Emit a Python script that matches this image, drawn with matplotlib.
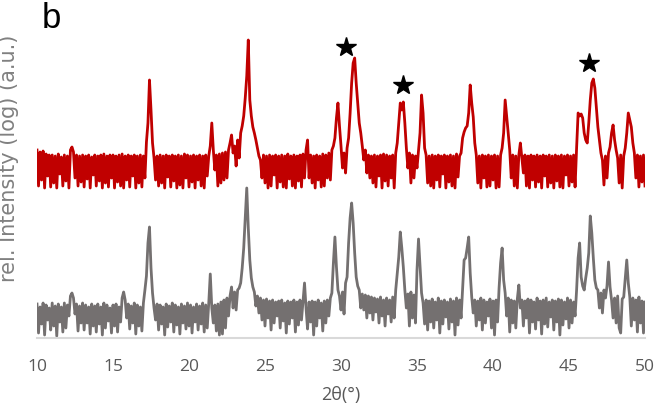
import numpy as np
import matplotlib.pyplot as plt

# Difractogramas (escala log, desplazados), paso 0.1 grados
two_theta = np.round(np.arange(10.0, 50.05, 0.1), 1)

red_trace = [
    188, 152, 186, 158, 187, 150, 184, 162, 183, 151,  # 10
    183, 155, 182, 150, 184, 164, 181, 152, 183, 157,  # 11
    182, 150, 188, 191, 186, 160, 183, 152, 182, 156,  # 12
    183, 151, 182, 159, 183, 150, 181, 163, 183, 152,  # 13
    182, 157, 183, 150, 184, 155, 182, 151, 183, 160,  # 14
    183, 150, 182, 156, 183, 152, 184, 150, 182, 158,  # 15
    183, 151, 182, 162, 183, 150, 182, 155, 183, 151,  # 16
    182, 160, 196, 215, 258, 228, 195, 180, 158, 182,  # 17
    152, 183, 155, 182, 150, 183, 161, 182, 151, 183,  # 18
    157, 182, 150, 183, 153, 182, 150, 184, 160, 183,  # 19
    151, 182, 156, 183, 150, 182, 158, 183, 152, 182,  # 20
    150, 183, 162, 182, 192, 215, 188, 168, 183, 152,  # 21
    184, 155, 185, 158, 186, 160, 188, 195, 203, 185,  # 22
    192, 172, 198, 180, 205, 212, 222, 240, 262, 298,  # 23
    238, 222, 211, 205, 198, 190, 182, 178, 160, 183,  # 24
    155, 182, 150, 183, 152, 182, 163, 183, 150, 182,  # 25
    156, 183, 151, 182, 150, 184, 159, 182, 152, 183,  # 26
    150, 182, 157, 183, 151, 184, 160, 188, 198, 160,  # 27
    183, 155, 182, 150, 183, 158, 182, 151, 184, 152,  # 28
    183, 160, 185, 158, 188, 192, 200, 220, 235, 212,  # 29
    192, 170, 185, 165, 190, 200, 225, 255, 275, 280,  # 30
    255, 235, 215, 205, 192, 178, 188, 165, 183, 160,  # 31
    182, 155, 183, 151, 182, 162, 183, 150, 184, 157,  # 32
    183, 152, 182, 160, 183, 150, 185, 195, 215, 235,  # 33
    228, 236, 215, 190, 170, 185, 155, 183, 160, 182,  # 34
    170, 188, 205, 243, 225, 190, 183, 155, 182, 152,  # 35
    183, 150, 182, 158, 183, 151, 182, 164, 183, 150,  # 36
    182, 156, 183, 152, 182, 150, 184, 161, 182, 185,  # 37
    200, 206, 210, 212, 225, 253, 235, 221, 195, 183,  # 38
    155, 182, 150, 183, 160, 182, 151, 183, 152, 182,  # 39
    158, 183, 150, 182, 151, 183, 190, 205, 238, 222,  # 40
    205, 188, 160, 183, 152, 182, 150, 183, 195, 180,  # 41
    165, 183, 152, 182, 150, 183, 158, 182, 151, 183,  # 42
    156, 182, 150, 183, 162, 182, 151, 183, 155, 182,  # 43
    150, 183, 157, 182, 151, 183, 150, 182, 163, 183,  # 44
    152, 182, 156, 183, 151, 190, 225, 222, 224, 220,  # 45
    205, 198, 195, 215, 238, 255, 259, 250, 230, 211,  # 46
    198, 185, 178, 153, 182, 160, 185, 191, 205, 213,  # 47
    198, 188, 180, 155, 183, 150, 182, 190, 205, 225,  # 48
    218, 211, 195, 185, 160, 183, 151, 182, 156, 183,  # 49
    152,                                               # 50
]

gray_trace = [
    34, 5, 31, 14, 35, 3, 33, 18, 30, 8,            # 10
    35, 12, 32, 2, 34, 16, 31, 6, 35, 10,           # 11
    33, 22, 42, 45, 40, 24, 34, 7, 32, 15,          # 12
    35, 8, 33, 15, 31, 4, 34, 12, 32, 6,            # 13
    34, 14, 31, 3, 35, 10, 33, 17, 30, 5,           # 14
    33, 12, 34, 6, 31, 16, 40, 46, 38, 20,          # 15
    34, 9, 32, 15, 35, 4, 33, 12, 31, 7,            # 16
    35, 48, 62, 95, 111, 70, 45, 30, 18, 34,        # 17
    8, 33, 14, 31, 3, 34, 11, 32, 16, 35,           # 18
    6, 33, 13, 31, 4, 34, 15, 32, 9, 35,            # 19
    12, 33, 5, 31, 16, 34, 8, 32, 14, 35,           # 20
    6, 33, 10, 35, 64, 30, 15, 33, 7, 34,           # 21
    3, 36, 4, 38, 10, 40, 22, 42, 51, 30,           # 22
    46, 28, 48, 50, 55, 70, 90, 120, 150, 110,      # 23
    78, 60, 51, 46, 32, 42, 25, 40, 18, 38,         # 24
    12, 39, 20, 37, 8, 38, 15, 36, 22, 37,          # 25
    10, 38, 17, 35, 5, 37, 14, 36, 20, 38,          # 26
    6, 36, 13, 38, 18, 37, 55, 30, 9, 36,           # 27
    16, 37, 3, 36, 12, 38, 20, 35, 7, 37,           # 28
    15, 38, 22, 40, 45, 75, 101, 71, 48, 42,        # 29
    28, 46, 24, 55, 61, 95, 120, 135, 115, 85,      # 30
    61, 52, 48, 30, 44, 28, 43, 20, 42, 25,         # 31
    41, 18, 40, 26, 39, 15, 41, 22, 38, 12,         # 32
    40, 24, 38, 16, 41, 20, 48, 65, 81, 106,        # 33
    90, 71, 48, 30, 44, 12, 46, 20, 43, 15,         # 34
    68, 99, 71, 45, 35, 14, 38, 8, 37, 16,          # 35
    39, 10, 36, 18, 40, 5, 37, 14, 38, 21,          # 36
    36, 9, 39, 16, 37, 3, 40, 13, 38, 20,           # 37
    48, 78, 80, 90, 101, 65, 41, 25, 38, 12,        # 38
    37, 18, 40, 8, 38, 15, 36, 22, 39, 10,          # 39
    37, 3, 38, 16, 50, 75, 90, 58, 45, 22,          # 40
    40, 6, 38, 15, 37, 10, 39, 53, 30, 38,          # 41
    12, 37, 20, 39, 5, 38, 16, 36, 9, 40,           # 42
    18, 37, 4, 38, 14, 40, 11, 36, 21, 38,          # 43
    8, 37, 16, 39, 3, 38, 13, 36, 19, 40,           # 44
    10, 38, 15, 36, 22, 48, 80, 95, 61, 52,         # 45
    48, 60, 70, 85, 122, 105, 80, 58, 50, 48,       # 46
    30, 45, 25, 48, 40, 52, 76, 51, 38, 20,         # 47
    40, 15, 42, 10, 5, 39, 41, 60, 78, 55,          # 48
    41, 12, 40, 18, 38, 6, 41, 15, 37, 5,           # 49
    36,                                             # 50
]

# Estrellas sobre los picos marcados
star_x = [30.3, 34.1, 46.3]
star_y = [291, 253, 275]

xticks = [10, 15, 20, 25, 30, 35, 40, 45, 50]

fig = plt.figure(figsize=(6.55, 4.04), dpi=100)
ax = fig.add_axes([37/655, 66/404, 608/655, 338/404])

ax.plot(two_theta, gray_trace, color="#747070", lw=2.0)
ax.plot(two_theta, red_trace, color="#C00000", lw=2.0)
ax.plot(star_x, star_y, linestyle="none", marker="*", color="black", ms=15)

ax.set_xlim(10, 50)
ax.set_ylim(0, 338)
ax.set_xticks(xticks)
ax.set_yticks([])
for s in ["top", "right", "left"]:
    ax.spines[s].set_visible(False)
ax.spines["bottom"].set_color("#d9d9d9")
ax.spines["bottom"].set_linewidth(1.5)
ax.tick_params(axis="x", length=0, pad=15, labelsize=12.5, labelcolor="#595959")
for lab in ax.get_xticklabels():
    lab.set_family("Open Sans")

ax.set_xlabel("2θ(°)", fontsize=13, color="#595959", family="Open Sans", labelpad=8)
fig.text(9/655, 1 - 158/404, "rel. Intensity (log) (a.u.)", rotation=90,
         ha="center", va="center", fontsize=15, color="#808080")
fig.text(42/655, 1 - 28/404, "b", fontsize=25, va="baseline", ha="left",
         family="Liberation Sans")

fig.savefig("out.png", dpi=100)
